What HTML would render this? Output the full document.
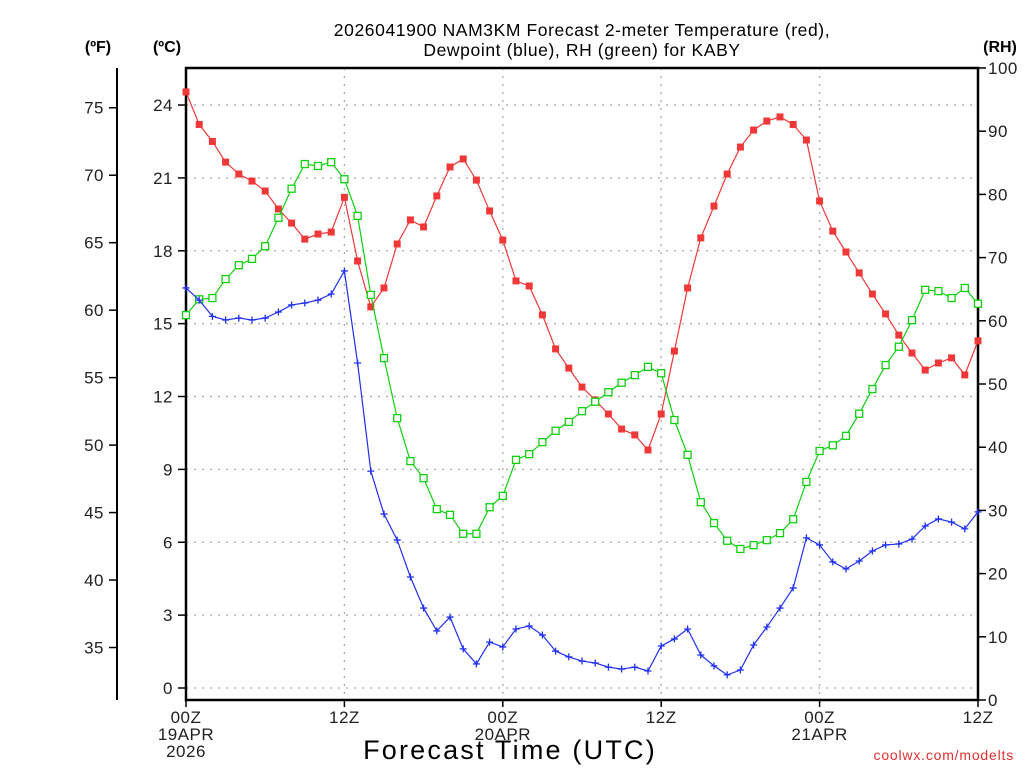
<!DOCTYPE html>
<html><head><meta charset="utf-8"><style>
html,body{margin:0;padding:0;background:#fff}
svg{display:block;font-family:"Liberation Sans",sans-serif}
</style></head><body>
<svg id="chart" width="1024" height="768" viewBox="0 0 1024 768" xmlns="http://www.w3.org/2000/svg">
<g font-size="17.5" fill="#000" text-anchor="middle" letter-spacing="0.6">
<text x="582" y="36">2026041900 NAM3KM Forecast 2-meter Temperature (red),</text>
<text x="582" y="56">Dewpoint (blue), RH (green) for KABY</text>
</g>
<text x="98" y="52" font-size="16" font-weight="bold" text-anchor="middle">(ºF)</text>
<text x="167" y="52" font-size="16" font-weight="bold" text-anchor="middle">(ºC)</text>
<text x="1000" y="52" font-size="16" font-weight="bold" text-anchor="middle">(RH)</text>
<g id="grid"></g>
<g id="axes"></g>
<g id="series"></g>
<text x="510" y="759" font-size="27" text-anchor="middle" letter-spacing="2.2">Forecast Time (UTC)</text>
<text x="1014" y="760" font-size="14" fill="#e03030" text-anchor="end" letter-spacing="0.8">coolwx.com/modelts</text>
</svg>
<script>
const tempC=[24.54,23.2,22.5,21.65,21.16,20.87,20.46,19.72,19.14,18.48,18.69,18.77,20.2,17.58,15.69,16.47,18.28,19.27,18.98,20.26,21.45,21.78,20.91,19.64,18.44,16.76,16.55,15.36,13.96,13.17,12.39,11.86,11.28,10.66,10.42,9.8,11.28,13.87,16.47,18.53,19.84,21.16,22.27,22.97,23.34,23.51,23.2,22.56,20.05,18.81,17.95,17.09,16.22,15.4,14.53,13.79,13.09,13.38,13.59,12.89,14.29];
const dewC=[16.47,15.97,15.3,15.15,15.23,15.15,15.23,15.48,15.77,15.85,15.97,16.22,17.17,13.38,8.93,7.16,6.09,4.57,3.29,2.35,2.92,1.61,0.99,1.89,1.69,2.43,2.55,2.18,1.52,1.28,1.11,1.03,0.86,0.78,0.86,0.7,1.73,2.02,2.43,1.36,0.91,0.54,0.74,1.77,2.51,3.29,4.12,6.18,5.89,5.19,4.9,5.23,5.64,5.89,5.93,6.13,6.67,6.96,6.83,6.55,7.25];
const rh=[60.9,63.4,63.6,66.6,68.8,69.8,71.8,76.3,80.9,84.8,84.5,85.1,82.4,76.6,64.1,54.1,44.6,37.8,35.1,30.2,29.3,26.3,26.3,30.5,32.3,38,38.9,40.8,42.6,44,45.7,47.2,48.7,50.2,51.4,52.7,51.7,44.3,38.8,31.3,28,25.2,23.9,24.5,25.3,26.4,28.6,34.5,39.4,40.3,41.8,45.3,49.2,53,55.9,60.1,64.9,64.7,63.6,65.2,62.7];
const cTicks=[0,3,6,9,12,15,18,21,24];
const fTicks=[35,40,45,50,55,60,65,70,75];
const rhTicks=[0,10,20,30,40,50,60,70,80,90,100];
const xTickHours=[0,12,24,36,48,60];
const xTickLabels=[["00Z","19APR","2026"],["12Z"],["00Z","20APR"],["12Z"],["00Z","21APR"],["12Z"]];

const NS="http://www.w3.org/2000/svg";
const X0=186,X1=978,Y0=68,Y1=700,HOURS=60;
const xs=h=>X0+(X1-X0)*h/HOURS;
const yC=c=>688-c*24.29;
const yF=f=>yC((f-32)*5/9);
const yRH=r=>Y1-(Y1-Y0)*r/100;
function mk(tag,attrs,parent){const e=document.createElementNS(NS,tag);for(const k in attrs)e.setAttribute(k,attrs[k]);parent.appendChild(e);return e;}
const grid=document.getElementById('grid'),axes=document.getElementById('axes'),ser=document.getElementById('series');

cTicks.forEach(c=>{const y=yC(c);
 const g=mk('line',{x1:X0,x2:X1,y1:y,y2:y,stroke:'#aaa','stroke-width':1.3,'stroke-dasharray':'2,6'},grid);
 
 
 const t=mk('line',{x1:X0-8,x2:X0,y1:y,y2:y,stroke:'#000','stroke-width':1.5},axes);
 
 
 const l=mk('text',{x:X0-13,y:y+6,'font-size':17,'text-anchor':'end',fill:'#222','letter-spacing':0.5},axes);l.textContent=c;
 
 
});
xTickHours.forEach((h,i)=>{const x=xs(h);
 if(h>0&&h<HOURS){const g=mk('line',{x1:x,x2:x,y1:Y0,y2:Y1,stroke:'#aaa','stroke-width':1.3,'stroke-dasharray':'2,6'},grid);
  
  }
 const t=mk('line',{x1:x,x2:x,y1:Y1,y2:Y1+7,stroke:'#000','stroke-width':1.5},axes);
 
 
 xTickLabels[i].forEach((s,j)=>{const l=mk('text',{x:x,y:723+j*17,'font-size':17,'text-anchor':'middle',fill:'#222','letter-spacing':0.5},axes);l.textContent=s;
  
  });
});
const ax=mk('line',{x1:117,x2:117,y1:68,y2:700,stroke:'#000','stroke-width':2},axes);


fTicks.forEach(f=>{const y=yF(f);
 const t=mk('line',{x1:109,x2:117,y1:y,y2:y,stroke:'#000','stroke-width':1.5},axes);
 
 
 const l=mk('text',{x:104,y:y+6,'font-size':17,'text-anchor':'end',fill:'#222','letter-spacing':0.5},axes);l.textContent=f;
 
 
});
rhTicks.forEach(r=>{const y=yRH(r);
 const t=mk('line',{x1:X1,x2:X1+8,y1:y,y2:y,stroke:'#000','stroke-width':1.5},axes);
 
 
 const l=mk('text',{x:X1+10,y:y+6,'font-size':17,'text-anchor':'start',fill:'#222','letter-spacing':0.5},axes);l.textContent=r;
 
 
});
const box=mk('rect',{x:X0,y:Y0,width:X1-X0,height:Y1-Y0,fill:'none',stroke:'#000','stroke-width':2.5},axes);



function line(vals,yf,color,name){const g=mk('g',{},ser);
 
 
 const p=mk('polyline',{points:vals.map((v,i)=>xs(i)+','+yf(v)).join(' '),fill:'none',stroke:color,'stroke-width':1.2},g);
 
 
 return g;}
const gT=line(tempC,yC,'#f03838','temperature-series');
tempC.forEach((v,i)=>{const m=mk('rect',{x:xs(i)-3.5,y:yC(v)-3.5,width:7,height:7,fill:'#f03838'},gT);
 
 });
const gR=line(rh,yRH,'#10d010','rh-series');
rh.forEach((v,i)=>{const m=mk('rect',{x:xs(i)-3.5,y:yRH(v)-3.5,width:7,height:7,fill:'#fff',stroke:'#10d010','stroke-width':1.3},gR);
 
 });
const gD=line(dewC,yC,'#2030f0','dewpoint-series');
dewC.forEach((v,i)=>{const x=xs(i),y=yC(v);
 const m=mk('path',{d:`M${x-3.5},${y}H${x+3.5}M${x},${y-3.5}V${y+3.5}`,stroke:'#2030f0','stroke-width':1.3},gD);
 
 });
</script>
</body></html>
